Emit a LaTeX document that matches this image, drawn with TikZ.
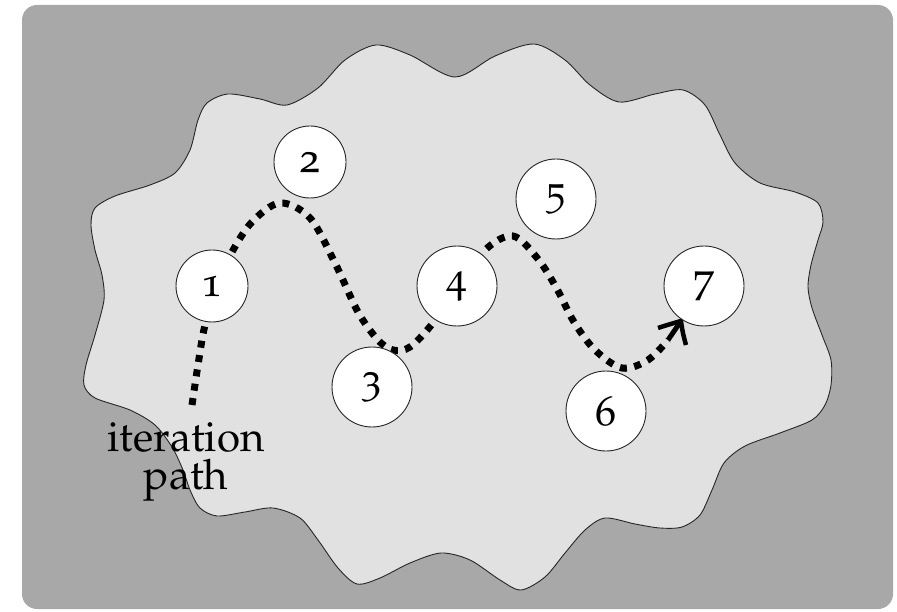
\documentclass[tikz,border=0pt]{standalone}
\usepackage[T1]{fontenc}
\usepackage[osf]{mathpazo}
\definecolor{framegray}{RGB}{168,168,168}
\definecolor{regiongray}{RGB}{225,225,225}
\begin{document}
\begin{tikzpicture}[x=1pt,y=-1pt,
  frame/.style={fill=framegray, rounded corners=15pt},
  region/.style={fill=regiongray, draw=black!85, line width=0.9pt},
  state/.style={circle, draw=black!85, fill=white, line width=0.9pt,
    inner sep=0pt, minimum size=80pt, font=\fontsize{42}{42}\selectfont},
  small state/.style={state, minimum size=72pt},
  iterpath/.style={line width=7pt, dash pattern=on 7pt off 7.5pt},
  arrowhead/.style={line width=4.5pt, line join=miter, miter limit=10},
  caption/.style={align=center, inner sep=0pt,
    font=\fontsize{42}{38}\selectfont}]
\useasboundingbox (0,0) rectangle (897,612);

% outer frame
\path[frame] (22,5) rectangle (893,609);

% the domain the iteration wanders in
\draw[region] plot[smooth cycle, tension=0.5] coordinates {
  (207,103) (228,94) (260,99) (287,105) (318,88) (345,60) (376,45)
  (410,55) (455,77) (495,56) (534,44) (565,60) (590,85) (619,102)
  (655,94) (683,90) (705,105) (720,135) (735,163) (760,183) (795,192)
  (818,203) (823,222) (818,240) (811,265) (808,287) (812,308) (822,335)
  (831,360) (831,385) (825,405) (812,420) (780,433) (745,446) (724,463)
  (712,490) (700,515) (682,527) (660,528) (635,524) (605,518) (585,530)
  (565,553) (545,577) (521,590) (500,580) (470,560) (441,553) (410,563)
  (380,578) (357,584) (338,568) (318,540) (300,518) (273,508) (245,512)
  (217,516) (200,508) (190,490) (183,470) (172,447) (155,425) (130,410)
  (95,398) (84,385) (86,365) (95,335) (104,300) (102,275) (95,250)
  (91,225) (95,208) (115,196) (150,185) (175,173) (190,150) (198,120)};

% label
\node[caption] (label) at (186,462) {iteration\\path};

% iteration path
\coordinate (pstart) at (192,405);
\coordinate (pstop) at (668,340);
\coordinate (pend) at (681,321);
\coordinate (barbl) at (658,328);
\coordinate (barbr) at (686,345);
\draw[iterpath] plot[smooth, tension=0.55] coordinates {
  (pstart) (198,365) (205,325) (218,283) (232,252) (252,222) (280,203)
  (310,218) (335,263) (358,312) (378,340) (393,350) (410,347) (433,323)
  (458,287) (485,250) (513,236) (538,259) (557,289) (574,322) (595,350)
  (622,368) (648,360) (pstop)};

% arrowhead at the end of the path
\draw[arrowhead] (barbl) .. controls (667,325) and (674,323) .. (pend)
  .. controls (682,330) and (684,338) .. (barbr);
\draw[line width=5pt] (pstop) -- (pend);

% iterates
\node[small state] (s1) at (212,286) {1};
\node[small state] (s2) at (310,162) {2};
\node[state] (s3) at (372,387) {3};
\node[state] (s4) at (457,286) {4};
\node[state] (s5) at (556,199) {5};
\node[state] (s6) at (606,411) {6};
\node[state] (s7) at (704,286) {7};
\end{tikzpicture}
\end{document}
